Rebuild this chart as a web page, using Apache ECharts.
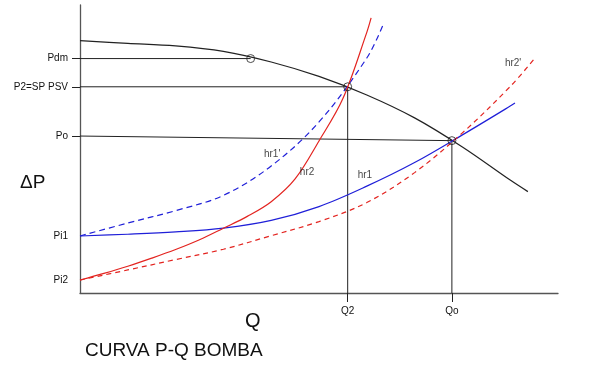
<!DOCTYPE html>
<html>
<head>
<meta charset="utf-8">
<script src="https://cdn.jsdelivr.net/npm/echarts@6/dist/echarts.min.js"></script>
<style>html,body{margin:0;padding:0;background:#fff}#c{width:596px;height:366px}</style>
</head>
<body>
<div id="c"></div>
<script>
// Key operating points (Q units 0..100, ΔP units 0..100)
var Qdm = 35.7, Q2 = 56.0, Qo = 77.8;
var Pdm = 81.4, P2 = 71.6, PoLeft = 54.5, Po = 52.9, Pi1 = 19.8, Pi2 = 4.5;

var yTickValues = [Pdm, P2, PoLeft, Pi1, Pi2];
var yTickLabels = ['Pdm', 'P2=SP PSV', 'Po', 'Pi1', 'Pi2'];
var yTickMarks = [Pdm, P2, PoLeft];
var xTickValues = [Q2, Qo];
var xTickLabels = ['Q2', 'Qo'];

// Pump curve
var pumpQ = [0, 10, 20, 30, 40, 50, 60, 70, 80, 90, 93.7];
var pumpP = [87.6, 86.7, 85.8, 83.9, 80.2, 75.2, 68.75, 60.8, 50.7, 39.2, 35.2];
// hr1 (blue solid)
var hr1Q = [0, 10, 20, 30, 40, 50, 60, 70, 80, 90, 91.0];
var hr1P = [19.8, 20.4, 21.2, 22.5, 25.2, 30.0, 37.1, 45.3, 54.9, 64.9, 66.0];
// hr1' (blue dashed)
var hr1dQ = [0, 10, 20, 30, 40, 50, 60, 63.4];
var hr1dP = [19.8, 24.3, 28.6, 33.9, 44.1, 59.4, 81.6, 93.1];
// hr2 (red solid)
var hr2Q = [0, 5, 10, 15, 20, 25, 30, 35, 40, 45, 50, 55, 60, 60.9];
var hr2P = [4.5, 6.8, 9.3, 12.1, 15.1, 18.5, 22.5, 26.6, 31.7, 39.6, 52.8, 67.5, 90.5, 95.5];
// hr2' (red dashed)
var hr2dQ = [0, 10, 20, 30, 40, 50, 60, 70, 80, 90, 95.2];
var hr2dP = [4.5, 8.0, 11.6, 15.2, 19.9, 24.8, 31.4, 41.8, 55.6, 71.7, 81.6];

var curveNames = ["hr2'", "hr1'", 'hr2', 'hr1'];
var curveLabelQ = [90.6, 40.2, 47.5, 59.6];
var curveLabelP = [79.9, 48.3, 42.0, 41.0];

function pts(xs, ys) { return xs.map(function (x, i) { return [x, ys[i]]; }); }

var chart = echarts.init(document.getElementById('c'), null, { renderer: 'canvas' });
var black = '#222', blue = '#1f1fd8', red = '#e3231f';

function seg(data) {
  return { type: 'line', data: data, symbol: 'none', silent: true,
    lineStyle: { width: 1, color: black }, z: 2 };
}
function curve(data, color, type) {
  return { type: 'line', data: data, symbol: 'none', smooth: 0.35, clip: false, silent: true,
    lineStyle: { width: 1.2, color: color, type: type || 'solid' }, z: 3 };
}
function txt(t, left, top, size) {
  return { text: t, left: left, top: top, padding: 0,
    textStyle: { fontSize: size, fontWeight: 'normal', color: '#111', fontFamily: 'Liberation Sans, Arial' } };
}

var option = {
  animation: false,
  backgroundColor: '#fff',
  textStyle: { fontFamily: 'Liberation Sans, Arial, sans-serif' },
  grid: { left: 80, right: 38, top: 5, bottom: 73 },
  title: [
    txt('CURVA P-Q BOMBA', 85, 341, 19),
    txt('ΔP', 20, 173, 19),
    txt('Q', 245, 311, 20)
  ],
  xAxis: {
    type: 'value', min: 0, max: 100,
    splitLine: { show: false },
    axisLine: { onZero: false, lineStyle: { color: '#555', width: 1.3 } },
    axisTick: { show: true, customValues: xTickValues, length: 9, lineStyle: { color: black, width: 1 } },
    axisLabel: {
      customValues: xTickValues, margin: 13, fontSize: 10, color: '#111',
      formatter: function (v) { var i = xTickValues.indexOf(v); return i >= 0 ? xTickLabels[i] : ''; }
    }
  },
  yAxis: {
    type: 'value', min: 0, max: 100,
    splitLine: { show: false },
    axisLine: { onZero: false, lineStyle: { color: '#555', width: 1.3 } },
    axisTick: { show: true, customValues: yTickMarks, length: 8, lineStyle: { color: black, width: 1 } },
    axisLabel: {
      customValues: yTickValues, margin: 12, fontSize: 10, color: '#111',
      formatter: function (v) { var i = yTickValues.indexOf(v); return i >= 0 ? yTickLabels[i] : ''; }
    }
  },
  series: [
    // guide lines
    seg([[0, Pdm], [Qdm, Pdm]]),
    seg([[0, P2], [Q2, P2]]),
    seg([[0, PoLeft], [Qo, Po]]),
    seg([[Q2, 0], [Q2, P2]]),
    seg([[Qo, 0], [Qo, Po]]),
    // curves
    curve(pts(pumpQ, pumpP), black),
    curve(pts(hr1Q, hr1P), blue),
    curve(pts(hr1dQ, hr1dP), blue, [6, 4]),
    curve(pts(hr2Q, hr2P), red),
    curve(pts(hr2dQ, hr2dP), red, [5, 4]),
    // operating point circles
    { type: 'scatter', data: [[Qdm, Pdm], [Q2, P2], [Qo, Po]], symbol: 'circle', symbolSize: 8,
      itemStyle: { color: 'rgba(255,255,255,0)', borderColor: black, borderWidth: 1 }, z: 5, silent: true },
    // curve labels
    { type: 'scatter', data: pts(curveLabelQ, curveLabelP).map(function (p, i) { return { value: p, name: curveNames[i] }; }),
      symbolSize: 0, z: 6, silent: true,
      label: { show: true, position: 'inside', formatter: '{b}', fontSize: 10, color: '#111' } }
  ]
};
chart.setOption(option);
</script>
</body>
</html>
